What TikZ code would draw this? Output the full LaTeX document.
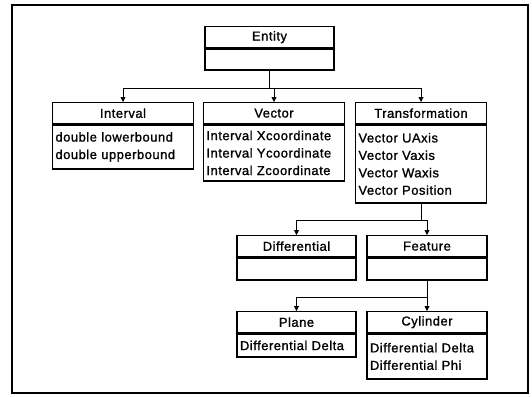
\documentclass[tikz,border=0pt]{standalone}
\usepackage{fontspec}
\setmainfont{Liberation Sans}[LetterSpace=4, FakeBold=1.2]
\usetikzlibrary{arrows.meta}

\tikzset{
  head/.style={draw, line width=1.3pt, inner sep=0pt, anchor=north,
    minimum height=21bp, font=\fontsize{13}{17.5}\selectfont},
  body/.style={draw, line width=1.3pt, inner xsep=3bp, inner ysep=0pt,
    anchor=north, align=left, font=\fontsize{13}{17.5}\selectfont},
  link/.style={line width=0.9pt, -{Triangle[length=5bp,width=5bp]}}
}

\begin{document}
\begin{tikzpicture}[x=1bp, y=-1bp]
  \useasboundingbox (0,0) rectangle (532,396);

  % cornice
  \draw[line width=1.6pt] (12,5) rectangle (528,393);

  % Entity
  \node[head, minimum width=129bp] (entity) at (269.5,26) {Entity};
  \node[body, text width=123bp, minimum height=21bp] (entity-b) at (entity.south) {};

  % Interval, Vector, Transformation
  \node[head, minimum width=141bp] (interval) at (123,102) {Interval};
  \node[body, text width=135bp, minimum height=44bp] (interval-b) at (interval.south)
    {double lowerbound\\double upperbound};

  \node[head, minimum width=141bp] (vector) at (274,102) {Vector};
  \node[body, text width=135bp, minimum height=56bp] (vector-b) at (vector.south)
    {Interval Xcoordinate\\Interval Ycoordinate\\Interval Zcoordinate};

  \node[head, minimum width=131bp] (trans) at (421,102) {Transformation};
  \node[body, text width=125bp, minimum height=78bp] (trans-b) at (trans.south)
    {Vector UAxis\\Vector Vaxis\\Vector Waxis\\Vector Position};

  % Differential, Feature
  \node[head, minimum width=119bp] (diff) at (296.5,235) {Differential};
  \node[body, text width=113bp, minimum height=22bp] (diff-b) at (diff.south) {};

  \node[head, minimum width=120bp] (feature) at (427,235) {Feature};
  \node[body, text width=114bp, minimum height=22bp] (feature-b) at (feature.south) {};

  % Plane, Cylinder
  \node[head, minimum width=119bp] (plane) at (296.5,311) {Plane};
  \node[body, text width=113bp, minimum height=23bp] (plane-b) at (plane.south)
    {Differential Delta};

  \node[head, minimum width=120bp] (cylinder) at (427,311) {Cylinder};
  \node[body, text width=114bp, minimum height=45bp] (cylinder-b) at (cylinder.south)
    {Differential Delta\\Differential Phi};

  % collegamenti
  \coordinate (split1) at ([yshift=-18bp]entity-b.south);
  \draw[line width=0.9pt] (entity-b.south) -- (split1);
  \draw[link] (split1) -| (interval.north);
  \draw[link] (split1) -| (vector.north);
  \draw[link] (split1) -| (trans.north);

  \coordinate (split2) at ([yshift=-17bp]trans-b.south);
  \draw[line width=0.9pt] (trans-b.south) -- (split2);
  \draw[link] (split2) -| (diff.north);
  \draw[link] (split2) -| (feature.north);

  \coordinate (split3) at ([yshift=-17bp]feature-b.south);
  \draw[line width=0.9pt] (feature-b.south) -- (split3);
  \draw[link] (split3) -| (plane.north);
  \draw[link] (split3) -| (cylinder.north);
\end{tikzpicture}
\end{document}
